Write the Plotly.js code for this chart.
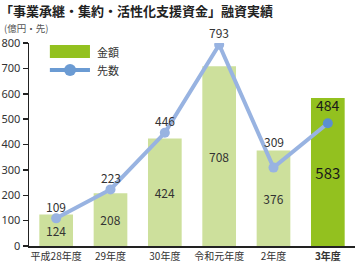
<!DOCTYPE html>
<html><head><meta charset="utf-8">
<script src="https://cdn.plot.ly/plotly-3.0.1.min.js"></script>
<style>body{margin:0;padding:0;background:#fff}#c{width:356px;height:264px}</style>
</head><body><div id="c"></div>
<script>
const categories = ['平成28年度','29年度','30年度','令和元年度','2年度','3年度'];
const tickLabels = ['平成28年度','29年度','30年度','令和元年度','2年度','<b>3年度</b>'];
const amounts = [124, 208, 424, 708, 376, 583];
const counts = [109, 223, 446, 793, 309, 484];
const yTicks = [0,100,200,300,400,500,600,700,800];

const F = '"Noto Sans CJK JP", "Noto Sans", sans-serif';
const last = categories.length - 1;
const barColors = amounts.map((v,i)=> i===last ? '#93c11f' : '#cde09c');
const barText = amounts.map(v=> String(v));
const barTextSizes = amounts.map((v,i)=> i===last ? 15 : 12);
const barTextColors = amounts.map((v,i)=> i===last ? '#1a1a1a' : '#333');
const markerColors = counts.map((v,i)=> i===last ? '#5b8fd0' : '#98b3e1');

const traces = [
  {type:'bar', x:categories, y:amounts, marker:{color:barColors}, text:barText,
   textposition:'inside', insidetextanchor:'middle', textangle:0,
   textfont:{family:F, size:barTextSizes, color:barTextColors}, hoverinfo:'none', showlegend:false},
  {type:'scatter', mode:'lines+markers', x:categories, y:counts,
   line:{color:'#98b3e1', width:4}, marker:{color:markerColors, size:10},
   hoverinfo:'none', showlegend:false}
];

const labelShift = [12, 12, 12, 12, 26, 18];
const annotations = counts.map((v,i)=>({
  x:categories[i], y:v, xref:'x', yref:'y', text:String(v), showarrow:false,
  yshift:labelShift[i], font:{family:F, size:i===last?14:12, color:i===last?'#1a1a1a':'#333'}
}));
annotations.push(
  {xref:'paper', yref:'paper', x:0.202, y:0.958, xanchor:'left', yanchor:'middle', text:'金額', showarrow:false, font:{family:F,size:11,color:'#333'}},
  {xref:'paper', yref:'paper', x:0.202, y:0.867, xanchor:'left', yanchor:'middle', text:'先数', showarrow:false, font:{family:F,size:11,color:'#333'}},
  {xref:'paper', yref:'paper', x:-0.083, y:1.076, xanchor:'left', yanchor:'middle', text:'(億円・先)', showarrow:false, font:{family:F,size:9.5,color:'#555'}}
);

const shapes = [
  {type:'rect', xref:'paper', yref:'paper', x0:0.064, x1:0.187, y0:0.926, y1:0.990, fillcolor:'#93c11f', line:{width:0}},
  {type:'line', xref:'paper', yref:'paper', x0:0.064, x1:0.187, y0:0.867, y1:0.867, line:{color:'#6b9bd3', width:4}},
  {type:'circle', xref:'paper', yref:'paper', xsizemode:'pixel', ysizemode:'pixel', xanchor:0.126, yanchor:0.867,
   x0:-6, x1:6, y0:-6, y1:6, fillcolor:'#6b9bd3', line:{width:0}}
];

const layout = {
  width:356, height:264,
  margin:{l:29, r:1, t:43, b:18},
  paper_bgcolor:'#fff', plot_bgcolor:'#fff',
  title:{text:'<b>「事業承継・集約・活性化支援資金」融資実績</b>', x:0, xanchor:'left', xref:'container',
         y:0.958, yref:'container', yanchor:'middle', font:{family:F, size:13, color:'#222'}},
  bargap:0.38,
  xaxis:{tickvals:categories, ticktext:tickLabels, showline:true, linecolor:'#222', linewidth:1.5,
         ticks:'', showgrid:false, zeroline:false, tickfont:{family:F, size:10, color:'#333'}, fixedrange:true},
  yaxis:{range:[0,800], tickvals:yTicks, showline:true, linecolor:'#222', linewidth:1.5,
         ticks:'outside', ticklen:5, tickcolor:'#222', tickwidth:1.5, showgrid:false, zeroline:false,
         tickfont:{family:'"Noto Sans", sans-serif', size:11, color:'#333'}, fixedrange:true},
  annotations:annotations, shapes:shapes, showlegend:false
};
Plotly.newPlot('c', traces, layout, {displayModeBar:false, staticPlot:true});
</script></body></html>
